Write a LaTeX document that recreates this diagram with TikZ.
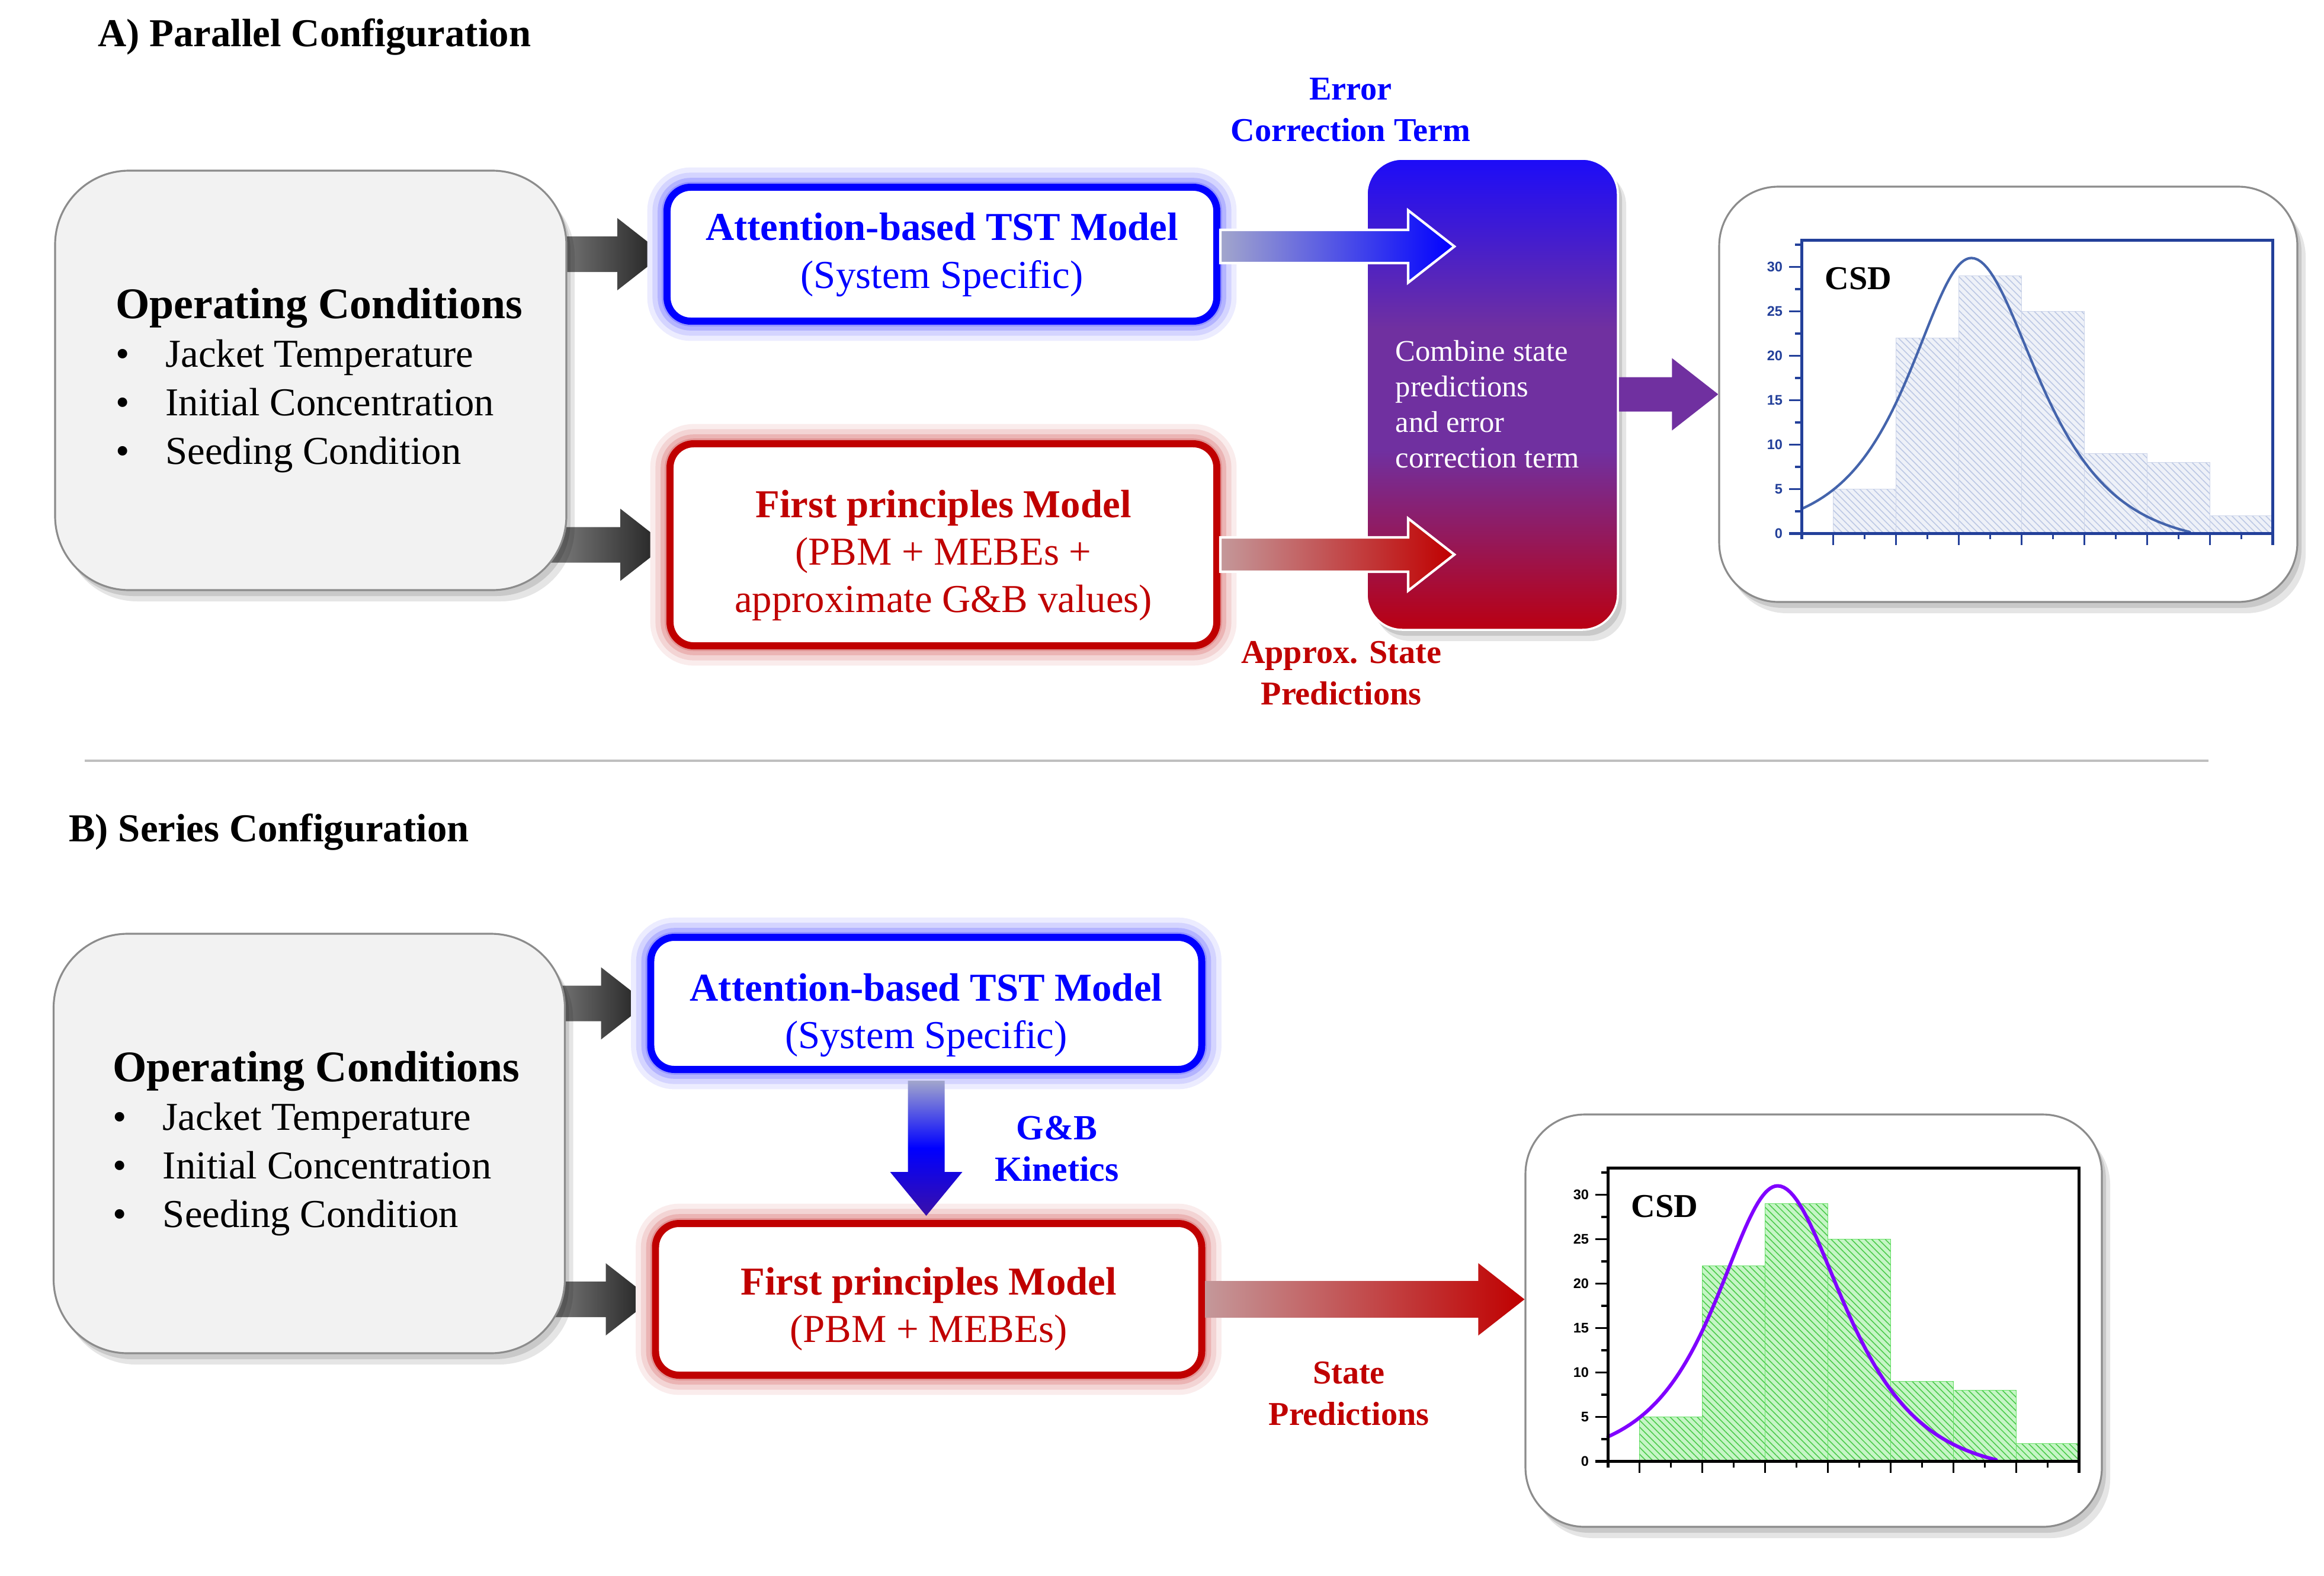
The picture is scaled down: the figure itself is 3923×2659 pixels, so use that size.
\documentclass[tikz,border=0pt]{standalone}
\usepackage{fontspec}
\setmainfont{Liberation Serif}
\setsansfont{Liberation Sans}
\usetikzlibrary{calc,patterns.meta,backgrounds}

\definecolor{ocfill}{HTML}{F2F2F2}
\definecolor{ocdraw}{HTML}{8C8C8C}
\definecolor{tblue}{HTML}{0000FF}
\definecolor{tred}{HTML}{C00000}
\definecolor{bglow}{HTML}{9494FF}
\definecolor{rglow}{HTML}{E29494}
\definecolor{ptop}{HTML}{1C0CF8}
\definecolor{pmid}{HTML}{7030A0}
\definecolor{pbot}{HTML}{BA0012}
\definecolor{gryL}{HTML}{8E8E8E}
\definecolor{gryR}{HTML}{1E1E1E}
\definecolor{bluL}{HTML}{A2A6CC}
\definecolor{bdark}{HTML}{3A10A8}
\definecolor{redL}{HTML}{C4989A}
\definecolor{parrow}{HTML}{7030A0}
\definecolor{axA}{HTML}{23409A}
\definecolor{curveA}{HTML}{4464AC}
\definecolor{barAfill}{HTML}{EEF1F8}
\definecolor{barAhatch}{HTML}{BCC8E4}
\definecolor{barAedge}{HTML}{CDD5EA}
\definecolor{barBfill}{HTML}{C6F5C6}
\definecolor{barBhatch}{HTML}{4CCB4C}
\definecolor{barBedge}{HTML}{66E066}
\definecolor{curveB}{HTML}{8000FF}
\definecolor{sepline}{HTML}{BFBFBF}

\pgfdeclareverticalshading{purpgrad}{100bp}{color(0bp)=(pbot); color(25bp)=(pbot); color(44bp)=(pmid); color(57bp)=(pmid); color(75bp)=(ptop); color(100bp)=(ptop)}

\newcommand\myfs[2]{\fontsize{#1}{#2}\selectfont}
\newcommand\bitem{\makebox[24pt][l]{\textbullet}}
\newcommand\octext{{\myfs{21}{23.3}\bfseries Operating Conditions}\\ \bitem Jacket Temperature\\ \bitem Initial Concentration\\ \bitem Seeding Condition}

% horizontal block arrow: #1 style, #2 from, #3 to (tip), #4 shaft half width
\newcommand\hblockarrow[4]{%
  \shade[#1] let \p1=(#2), \p2=(#3) in
    (\x1,{\y2+#4}) -- ({\x2-7.8mm},{\y2+#4}) -- ({\x2-7.8mm},{\y2+6.1mm}) -- (\x2,\y2)
    -- ({\x2-7.8mm},{\y2-6.1mm}) -- ({\x2-7.8mm},{\y2-#4}) -- (\x1,{\y2-#4}) -- cycle;}

% CSD chart: #1 box node, #2 prefix, #3 axis colour, #4 bar fill, #5 hatch, #6 bar edge, #7 curve colour, #8 curve width
\newcommand\csdchart[8]{%
\begin{scope}[shift={($(#1.north west)+(141,587)$)}, x=10.6mm, y=1.5mm]
  \foreach \i/\h in {0/5,1/22,2/29,3/25,4/9,5/8,6/2}{%
    \fill[#4] ({\i+0.5},0) rectangle ({\i+1.5},\h);
    \fill[pattern={Lines[angle=-45,distance=2.3pt,line width=0.45pt]}, pattern color=#5] ({\i+0.5},0) rectangle ({\i+1.5},\h);
    \draw[#6, line width=0.5pt] ({\i+0.5},0) rectangle ({\i+1.5},\h);
  }
  \draw[#7, line width=#8, line cap=round, line join=round]
    plot[domain=0:2.7, samples=70] (\x, {31/cosh((2.7-\x)/0.87)})
    -- plot[domain=2.7:6.18, samples=70] (\x, {32.5/cosh((\x-2.7)/0.95)-1.5});
  \draw[#3, line width=1.4pt] (0,-0.67) -- (0,33) -- (7.5,33) -- (7.5,-1.33);
  \draw[#3, line width=1.4pt] (-0.2,0) -- (7.5,0);
  \foreach \v in {5,10,...,30} \draw[#3, line width=0.9pt] (-0.2,\v) -- (0,\v);
  \foreach \v in {2.5,7.5,...,32.5} \draw[#3, line width=0.9pt] (-0.11,\v) -- (0,\v);
  \foreach \u in {0.5,1.5,...,7.5} \draw[#3, line width=0.9pt] (\u,0) -- (\u,-1.33);
  \foreach \u in {1,2,...,7} \draw[#3, line width=0.9pt] (\u,0) -- (\u,-0.67);
  \foreach \v in {0,5,...,30} \node[font=\sffamily\bfseries\myfs{6.7}{7}, text=#3, anchor=east, inner sep=0pt] (#2y\v) at (-0.3,\v) {\v};
  \node[font=\myfs{16}{16}\bfseries, text=black] (#2csd) at (0.9,28.7) {CSD};
\end{scope}}

\begin{document}
\begin{tikzpicture}[x=0.1mm, y=-0.1mm,
  softshadow/.style={preaction={fill=black, fill opacity=0.10, draw=none, transform canvas={shift={(1.4mm,-1.9mm)}}},
                     preaction={fill=black, fill opacity=0.12, draw=none, transform canvas={shift={(0.7mm,-1.0mm)}}}},
  blueglow/.style={preaction={draw=bglow!18, line width=19pt}, preaction={draw=bglow!40, line width=14pt}, preaction={draw=bglow!70, line width=9pt}, preaction={draw=bglow, line width=5pt}},
  redglow/.style={preaction={draw=rglow!18, line width=19pt}, preaction={draw=rglow!40, line width=14pt}, preaction={draw=rglow!70, line width=9pt}, preaction={draw=rglow, line width=5pt}},
  ocbox/.style={softshadow, draw=ocdraw, line width=0.9pt, fill=ocfill, rounded corners=12.5mm, minimum width=86.3mm, minimum height=70.8mm, inner sep=0pt},
  octxt/.style={align=left, text=black, font=\myfs{19}{23.3}},
  modelbox/.style={fill=white, line width=3.4pt, rounded corners=4mm, inner sep=0pt},
  tstbox/.style={modelbox, draw=tblue, blueglow},
  fpbox/.style={modelbox, draw=tred, redglow},
  modeltext/.style={align=center, font=\myfs{19}{22.8}},
  combbox/.style={softshadow, shade, shading=purpgrad, draw=white, line width=1pt, rounded corners=6mm, minimum width=42.4mm, minimum height=79.5mm},
  combtext/.style={text=white, align=left, font=\myfs{14.4}{17.1}},
  csdbox/.style={softshadow, draw=ocdraw, line width=0.9pt, fill=white, rounded corners=10mm, inner sep=0pt},
  lbl/.style={font=\myfs{16}{19.9}\bfseries, align=center},
  ttl/.style={anchor=west, font=\myfs{19}{22}\bfseries, text=black}]

\useasboundingbox (0,0) rectangle (3923,2659);

% ---------- titles ----------
\node[ttl] (titleA) at (153,62) {A) Parallel Configuration};
\node[ttl] (titleB) at (104,1404) {B) Series Configuration};

% ---------- A) parallel ----------
\node[ocbox] (ocA) at (524.5,642) {};
\node[octxt] (ocAtxt) at ($(ocA.center)+(14,0)$) {\octext};
\node[tstbox, minimum width=92.8mm, minimum height=22.6mm] (tstA) at (1590,429) {};
\node[modeltext, text=tblue] (tstAtxt) at ($(tstA.center)+(0,1)$) {\textbf{Attention-based TST Model}\\(System Specific)};
\node[fpbox, minimum width=92.3mm, minimum height=34.1mm] (fpA) at (1592.5,919.5) {};
\node[modeltext, text=tred] (fpAtxt) at ($(fpA.center)+(0,18)$) {\textbf{First principles Model}\\(PBM + MEBEs +\\approximate G\&B values)};
\node[combbox] (comb) at (2519,665.5) {};
\node[combtext] (combtxt) at (2511,682) {Combine state\\predictions\\and error\\correction term};
\node[csdbox, minimum width=97.6mm, minimum height=70.1mm] (csdA) at (3390,665.5) {};
\csdchart{csdA}{A}{axA}{barAfill}{barAhatch}{barAedge}{curveA}{1.2pt}

\coordinate (eA) at (2455,416);
\coordinate (eR) at (2455,936);
\hblockarrow{left color=bluL, right color=tblue, draw=white, line width=1.2pt}{tstA.east}{eA}{2.8mm}
\hblockarrow{left color=redL, right color=tred, draw=white, line width=1.2pt}{fpA.east}{eR}{2.9mm}
\hblockarrow{left color=parrow, right color=parrow}{comb.east}{csdA.west}{2.9mm}

\node[lbl, text=tblue] (errlbl) at (2280,185) {Error\\Correction Term};
\node[lbl, text=tred] (applbl) at (2264,1136) {Approx. State\\Predictions};

% ---------- separator ----------
\draw[sepline, line width=0.9pt] (143,1284) -- (3728,1284);

% ---------- B) series ----------
\node[ocbox] (ocB) at (522,1930) {};
\node[octxt] (ocBtxt) at ($(ocB.center)+(12,0)$) {\octext};
\node[tstbox, minimum width=93.0mm, minimum height=22.3mm] (tstB) at (1563.5,1693.5) {};
\node[modeltext, text=tblue] (tstBtxt) at ($(tstB.center)+(0,20)$) {\textbf{Attention-based TST Model}\\(System Specific)};
\node[fpbox, minimum width=92.2mm, minimum height=25.6mm] (fpB) at (1567.5,2193) {};
\node[modeltext, text=tred] (fpBtxt) at ($(fpB.center)+(0,16)$) {\textbf{First principles Model}\\(PBM + MEBEs)};
\node[csdbox, minimum width=97.3mm, minimum height=69.6mm] (csdB) at (3061.5,2229) {};
\csdchart{csdB}{B}{black}{barBfill}{barBhatch}{barBedge}{curveB}{1.7pt}

\shade[top color=bluL, bottom color=bdark, middle color=tblue]
  let \p1=(tstB.south), \p2=(fpB.north) in
  ({\x1-3.1mm},{\y1-1.3mm}) -- ({\x1-3.1mm},{\y2+8.1mm}) -- ({\x1-6.1mm},{\y2+8.1mm}) -- (\x1,{\y2+0.7mm})
  -- ({\x1+6.1mm},{\y2+8.1mm}) -- ({\x1+3.1mm},{\y2+8.1mm}) -- ({\x1+3.1mm},{\y1-1.3mm}) -- cycle;
\hblockarrow{left color=redL, right color=tred}{fpB.east}{$(csdB.west |- fpB.east)$}{3.1mm}

\node[lbl, text=tblue, font=\myfs{17}{19.9}\bfseries] (gblbl) at (1784,1939) {G\&B\\Kinetics};
\node[lbl, text=tred] (stlbl) at (2277,2352) {State\\Predictions};

% ---------- grey input arrows (behind the boxes) ----------
\begin{pgfonlayer}{background}
  \fill[white] (0,0) rectangle (3923,2659);
  \hblockarrow{left color=gryL, right color=gryR}{$(ocA.east)+(-60,0)$}{tstA.west}{3mm}
  \hblockarrow{left color=gryL, right color=gryR}{$(ocA.east)+(-60,0)$}{fpA.west}{3mm}
  \hblockarrow{left color=gryL, right color=gryR}{$(ocB.east)+(-60,0)$}{tstB.west}{3mm}
  \hblockarrow{left color=gryL, right color=gryR}{$(ocB.east)+(-60,0)$}{fpB.west}{3mm}
\end{pgfonlayer}
\end{tikzpicture}
\end{document}
